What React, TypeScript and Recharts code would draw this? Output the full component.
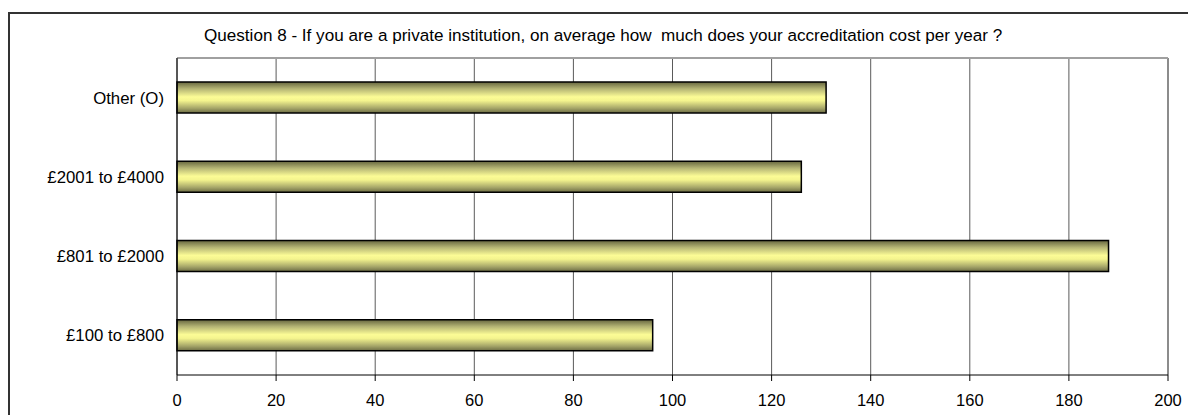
import React from "react";
import {
  BarChart,
  Bar,
  XAxis,
  YAxis,
  CartesianGrid,
  ReferenceLine,
} from "recharts";

// Accreditation cost bands, listed top to bottom
const costBands = ["Other (O)", "£2001 to £4000", "£801 to £2000", "£100 to £800"];
const responses = [131, 126, 188, 96];
const xTicks = [0, 20, 40, 60, 80, 100, 120, 140, 160, 180, 200];
const bandEdges = [0, 1, 2, 3, 4];

const title =
  "Question 8 - If you are a private institution, on average how  much does your accreditation cost per year ?";

const font = "'Liberation Sans', Arial, sans-serif";

export default function App() {
  const data = costBands.map((band, i) => ({ band, value: responses[i] }));

  return (
    <div
      style={{
        position: "fixed",
        left: 8,
        top: 12,
        width: 1178,
        height: 401,
        borderLeft: "2px solid #333",
        borderTop: "2px solid #333",
        fontFamily: font,
        background: "#fff",
      }}
    >
      <div
        style={{
          position: "absolute",
          left: 194,
          top: 13,
          fontSize: 17.1,
          lineHeight: "17px",
          whiteSpace: "pre",
          color: "#000",
        }}
      >
        {title}
      </div>
      <div style={{ position: "absolute", left: 0, top: 0 }}>
        <BarChart
          width={1178}
          height={401}
          data={data}
          layout="vertical"
          margin={{ top: 43, right: 20, left: 0, bottom: 9 }}
        >
          <defs>
            <linearGradient id="barFill" x1="0" y1="0" x2="0" y2="1">
              <stop offset="0%" stopColor="#66663f" />
              <stop offset="22%" stopColor="#b4b474" />
              <stop offset="48%" stopColor="#fcfc96" />
              <stop offset="60%" stopColor="#f4f48e" />
              <stop offset="85%" stopColor="#a4a468" />
              <stop offset="100%" stopColor="#6c6c44" />
            </linearGradient>
          </defs>
          <CartesianGrid horizontal={false} stroke="#5a5a5a" />
          <XAxis
            type="number"
            domain={[0, 200]}
            ticks={xTicks}
            interval={0}
            height={31}
            stroke="#000"
            tickSize={6}
            tickMargin={13}
            tick={{ fill: "#000", fontSize: 16.5, fontFamily: font }}
          />
          <XAxis
            xAxisId="top"
            orientation="top"
            type="number"
            domain={[0, 200]}
            height={1}
            tick={false}
            tickLine={false}
            axisLine={{ stroke: "#a0a0a0", strokeWidth: 2 }}
          />
          {/* short ticks on the band boundaries, next to the plot */}
          <YAxis
            yAxisId="axisEdges"
            type="number"
            domain={[0, 4]}
            ticks={bandEdges}
            interval={0}
            width={6}
            tick={false}
            tickSize={5}
            stroke="#000"
          />
          <YAxis
            yAxisId="bands"
            type="category"
            dataKey="band"
            width={161}
            axisLine={false}
            tickLine={false}
            tickSize={0}
            tickMargin={7}
            tick={{ fill: "#000", fontSize: 16.8, fontFamily: font }}
          />
          <ReferenceLine x={200} stroke="#8c8c8c" strokeWidth={2} />
          <Bar
            yAxisId="bands"
            dataKey="value"
            barSize={31}
            fill="url(#barFill)"
            stroke="#000"
            strokeWidth={1.5}
            isAnimationActive={false}
          />
        </BarChart>
      </div>
    </div>
  );
}
